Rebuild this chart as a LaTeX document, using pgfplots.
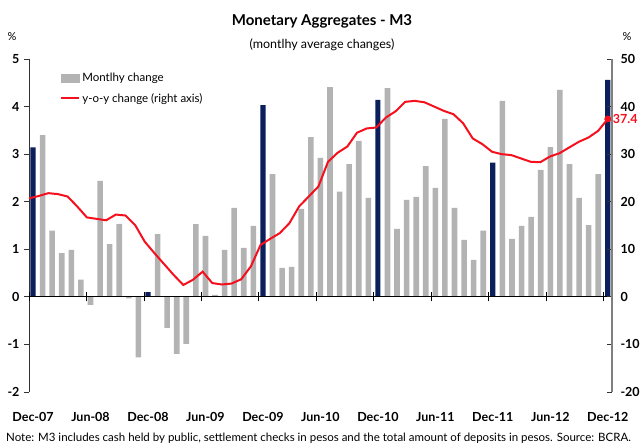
\documentclass[border=0pt]{standalone}
\usepackage{fontspec}
\setmainfont{Lato}
\usepackage{pgfplots}
\pgfplotsset{compat=1.18}
\usepackage{pgfplotstable}
\definecolor{navy}{HTML}{0A1F5C}
\definecolor{bargray}{HTML}{B3B3B3}
\definecolor{lred}{HTML}{F5101E}

\pgfplotstableread{
i v
1 3.40
2 1.39
3 0.92
4 0.99
5 0.36
6 -0.17
7 2.44
8 1.11
9 1.53
10 -0.03
11 -1.27
13 1.32
14 -0.65
15 -1.20
16 -0.99
17 1.53
18 1.28
19 0.04
20 0.99
21 1.87
22 1.03
23 1.49
25 2.58
26 0.61
27 0.63
28 1.85
29 3.36
30 2.92
31 4.41
32 2.21
33 2.79
34 3.28
35 2.08
37 4.39
38 1.43
39 2.04
40 2.10
41 2.75
42 2.29
43 3.74
44 1.87
45 1.20
46 0.78
47 1.39
49 4.12
50 1.22
51 1.49
52 1.68
53 2.67
54 3.15
55 4.35
56 2.79
57 2.08
58 1.51
59 2.58
}\graybars

\pgfplotstableread{
i v
0 3.14
12 0.10
24 4.03
36 4.14
48 2.82
60 4.56
}\navybars

\pgfplotstableread{
i v
0 20.7
1 21.2
2 21.8
3 21.6
4 21.1
5 19.0
6 16.7
7 16.4
8 16.1
9 17.3
10 17.1
11 15.1
12 11.6
13 9.2
14 6.9
15 4.6
16 2.5
17 3.6
18 5.3
19 2.9
20 2.6
21 2.8
22 3.7
23 6.4
24 10.9
25 12.2
26 13.4
27 15.5
28 19.0
29 21.1
30 23.2
31 28.4
32 30.3
33 31.6
34 34.5
35 35.4
36 35.6
37 37.7
38 39.0
39 41.0
40 41.2
41 40.9
42 40.0
43 39.1
44 38.4
45 36.5
46 33.3
47 32.1
48 30.5
49 30.0
50 29.8
51 29.1
52 28.4
53 28.3
54 29.5
55 30.2
56 31.4
57 32.6
58 33.5
59 34.9
60 37.4
}\yoy

\begin{document}
\begin{tikzpicture}[font=\fontsize{12}{14}\selectfont]
% left axis with bars
\begin{axis}[
  at={(29pt,-392pt)}, anchor=south west,
  scale only axis, width=583pt, height=333pt,
  xmin=-0.42, xmax=60.44, ymin=-2, ymax=5,
  axis x line=none, axis y line*=left,
  ytick={-2,-1,0,1,2,3,4,5},
  tick align=outside, major tick length=5pt,
  y axis line style={draw=black!80, line width=0.8pt},
  ytick style={draw=black!80, line width=0.8pt},
  /pgf/number format/assume math mode=true,
  yticklabel style={font=\fontsize{12.5}{14}\selectfont\bfseries, xshift=-1pt},
  clip=false,
]
\addplot[ybar, bar shift=0pt, bar width=5.6pt, fill=bargray, draw=none] table[x=i, y=v] {\graybars};
\addplot[ybar, bar shift=0pt, bar width=5.2pt, fill=navy, draw=none] table[x=i, y=v] {\navybars};
\node[font=\fontsize{12.5}{14}\selectfont\bfseries] at (axis cs:0,-2) [yshift=-25pt] {Dec-07};
\node[font=\fontsize{12.5}{14}\selectfont\bfseries] at (axis cs:6,-2) [yshift=-25pt] {Jun-08};
\node[font=\fontsize{12.5}{14}\selectfont\bfseries] at (axis cs:12,-2) [yshift=-25pt] {Dec-08};
\node[font=\fontsize{12.5}{14}\selectfont\bfseries] at (axis cs:18,-2) [yshift=-25pt] {Jun-09};
\node[font=\fontsize{12.5}{14}\selectfont\bfseries] at (axis cs:24,-2) [yshift=-25pt] {Dec-09};
\node[font=\fontsize{12.5}{14}\selectfont\bfseries] at (axis cs:30,-2) [yshift=-25pt] {Jun-10};
\node[font=\fontsize{12.5}{14}\selectfont\bfseries] at (axis cs:36,-2) [yshift=-25pt] {Dec-10};
\node[font=\fontsize{12.5}{14}\selectfont\bfseries] at (axis cs:42,-2) [yshift=-25pt] {Jun-11};
\node[font=\fontsize{12.5}{14}\selectfont\bfseries] at (axis cs:48,-2) [yshift=-25pt] {Dec-11};
\node[font=\fontsize{12.5}{14}\selectfont\bfseries] at (axis cs:54,-2) [yshift=-25pt] {Jun-12};
\node[font=\fontsize{12.5}{14}\selectfont\bfseries] at (axis cs:60,-2) [yshift=-25pt] {Dec-12};
\end{axis}
% x axis line at zero
\begin{axis}[
  at={(29pt,-392pt)}, anchor=south west,
  scale only axis, width=583pt, height=333pt,
  xmin=-0.42, xmax=60.44, ymin=-2, ymax=5,
  axis x line=middle, axis y line=none,
  xtick={-0.42,5.58,11.58,17.58,23.58,29.58,35.58,41.58,47.58,53.58,59.58},
  xticklabels={},
  tick align=center, major tick length=9pt,
  x axis line style={draw=black, line width=0.9pt, -},
  xtick style={draw=black, line width=0.9pt},
]
\addplot[draw=none] coordinates {(0,0)};
\end{axis}
% right axis with y-o-y line
\begin{axis}[
  at={(29pt,-392pt)}, anchor=south west,
  scale only axis, width=583pt, height=333pt,
  xmin=-0.42, xmax=60.44, ymin=-20, ymax=50,
  axis x line=none, axis y line*=right,
  ytick={-20,-10,0,10,20,30,40,50},
  tick align=inside, major tick length=5pt,
  y axis line style={draw=black!50, line width=1.2pt},
  ytick style={draw=black!80, line width=0.8pt},
  /pgf/number format/assume math mode=true,
  yticklabel style={font=\fontsize{12.5}{14}\selectfont\bfseries, anchor=west, xshift=5pt},
  clip=false,
  legend style={at={(0.05,0.97)}, anchor=north west, draw=none, fill=none,
    font=\fontsize{11.5}{13}\selectfont, row sep=6pt, inner sep=2pt},
  legend cell align=left,
]
\addlegendimage{legend image code/.code={\fill[bargray] (0pt,-4pt) rectangle (18pt,4pt);}}
\addlegendentry{Montlhy change}
\addplot[lred, line width=2pt, legend image code/.code={\draw[lred, line width=2pt] (0pt,0pt) -- (18pt,0pt);}] table[x expr=\thisrow{i}*1.007-0.42, y=v] {\yoy};
\addlegendentry{y-o-y change (right axis)}
\addplot[only marks, mark=*, mark size=3.2pt, lred, forget plot] coordinates {(60,37.4)};
\node[anchor=west, text=lred, font=\fontsize{12.5}{14}\selectfont\bfseries, inner sep=1pt] at (axis cs:60,37.4) [xshift=4pt] {37.4};
\end{axis}
\node[font=\fontsize{15}{17}\selectfont\bfseries] at (322pt,-21pt) {Monetary Aggregates - M3};
\node[font=\fontsize{12.5}{14}\selectfont] at (322pt,-45pt) {(montlhy average changes)};
\node[font=\fontsize{11}{13}\selectfont] at (12pt,-37pt) {\%};
\node[font=\fontsize{11}{13}\selectfont] at (627pt,-37pt) {\%};
\node[anchor=base west, inner sep=0pt, font=\fontsize{11.5}{13}\selectfont] at (6pt,-441pt) {Note: M3 includes cash held by public, settlement checks in pesos and the total amount of deposits in pesos. Source: BCRA.};
\pgfresetboundingbox
\useasboundingbox (0pt,0pt) rectangle (642pt,-445pt);
\end{tikzpicture}
\end{document}
